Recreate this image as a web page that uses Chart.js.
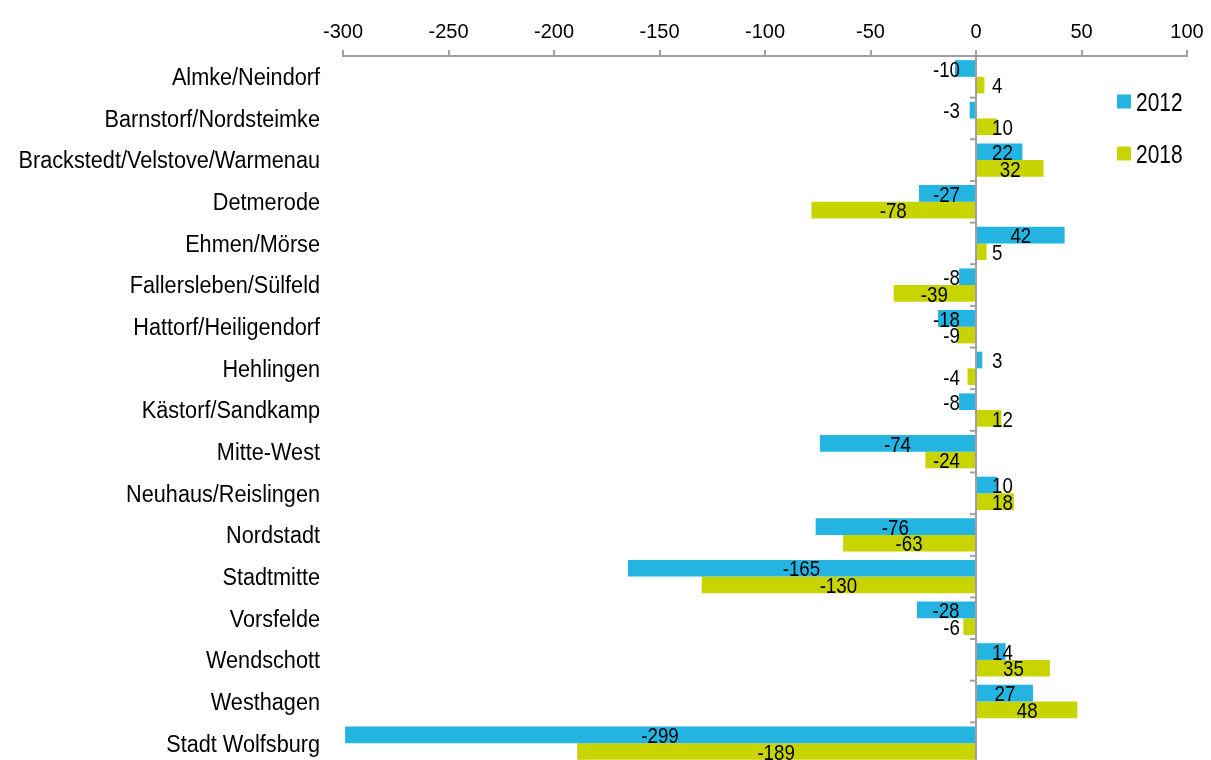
<!DOCTYPE html>
<html>
<head>
<meta charset="utf-8">
<script src="https://cdn.jsdelivr.net/npm/chart.js@4/dist/chart.umd.min.js"></script>
<style>
  html, body { margin: 0; padding: 0; background: #fff; overflow: hidden; }
  #wrap { width: 1211px; height: 770px; }
</style>
</head>
<body>
<div id="wrap"><canvas id="c" width="1211" height="770"></canvas></div>
<script>
// Population change by district
const districts = [
  'Almke/Neindorf', 'Barnstorf/Nordsteimke', 'Brackstedt/Velstove/Warmenau',
  'Detmerode', 'Ehmen/Mörse', 'Fallersleben/Sülfeld', 'Hattorf/Heiligendorf',
  'Hehlingen', 'Kästorf/Sandkamp', 'Mitte-West', 'Neuhaus/Reislingen',
  'Nordstadt', 'Stadtmitte', 'Vorsfelde', 'Wendschott', 'Westhagen',
  'Stadt Wolfsburg'
];
const seriesNames = ['2012', '2018'];
const values2012 = [-10, -3, 22, -27, 42, -8, -18, 3, -8, -74, 10, -76, -165, -28, 14, 27, -299];
const values2018 = [4, 10, 32, -78, 5, -39, -9, -4, 12, -24, 18, -63, -130, -6, 35, 48, -189];
const axisMin = -300, axisMax = 100, axisStep = 50;

const FONT = "'Liberation Sans', Arial, sans-serif";
const BLUE = '#24B4E2';
const GREEN = '#C8D400';
const AXIS = '#A0A0A0';

// text drawn with a narrow horizontal scale; y is the vertical centre of the capitals
function narrowText(ctx, txt, x, y, size, sx, align) {
  ctx.save();
  ctx.font = size + 'px ' + FONT;
  ctx.translate(x, y + size * 0.358);
  ctx.scale(sx, 1);
  ctx.textAlign = align;
  ctx.textBaseline = 'alphabetic';
  ctx.fillStyle = '#000';
  ctx.fillText(txt, 0, 0);
  ctx.restore();
}

// district names at the category positions of the y scale
const categoryLabels = {
  id: 'categoryLabels',
  afterDraw(chart) {
    const ys = chart.scales.y;
    const ctx = chart.ctx;
    ys.ticks.forEach((t, i) => {
      narrowText(ctx, ys.getLabelForValue(t.value), ys.right - 23, ys.getPixelForTick(i), 23.3, 0.93, 'right');
    });
  }
};

// value labels: centred on the bar, kept clear of the zero line
const valueLabels = {
  id: 'valueLabels',
  afterDatasetsDraw(chart) {
    const ctx = chart.ctx;
    const x0 = chart.scales.x.getPixelForValue(0);
    const size = 21.5, sx = 0.87;
    ctx.save();
    ctx.font = size + 'px ' + FONT;
    chart.data.datasets.forEach((ds, di) => {
      const meta = chart.getDatasetMeta(di);
      meta.data.forEach((bar, i) => {
        const v = ds.data[i];
        const txt = String(v);
        const w = ctx.measureText(txt).width * sx;
        let cx = (bar.x + bar.base) / 2;
        if (v >= 0) cx = Math.max(cx, x0 + 16 + w / 2);
        else cx = Math.min(cx, x0 - 16 - w / 2);
        narrowText(ctx, txt, cx, bar.y + 0.5, size, sx, 'center');
      });
    });
    ctx.restore();
  }
};

// category tick marks on the zero line, plus the legend at the right
const extras = {
  id: 'extras',
  afterDraw(chart) {
    const ctx = chart.ctx;
    const area = chart.chartArea;
    const x0 = chart.scales.x.getPixelForValue(0);
    const n = districts.length;
    const step = (area.bottom - area.top) / n;
    ctx.save();
    ctx.strokeStyle = AXIS;
    ctx.lineWidth = 2;
    for (let i = 1; i <= n; i++) {
      const y = area.top + i * step;
      ctx.beginPath();
      ctx.moveTo(x0 - 6, y);
      ctx.lineTo(x0, y);
      ctx.stroke();
    }
    const colors = [BLUE, GREEN];
    const ys = [101.5, 153.5];
    seriesNames.forEach((name, k) => {
      ctx.fillStyle = colors[k];
      ctx.fillRect(1117, ys[k] - 7, 14, 14);
      narrowText(ctx, name, 1136, ys[k], 26.5, 0.79, 'left');
    });
    ctx.restore();
  }
};

new Chart(document.getElementById('c'), {
  type: 'bar',
  data: {
    labels: districts,
    datasets: [
      { label: seriesNames[0], data: values2012, backgroundColor: BLUE, categoryPercentage: 0.8, barPercentage: 1.0 },
      { label: seriesNames[1], data: values2018, backgroundColor: GREEN, categoryPercentage: 0.8, barPercentage: 1.0 }
    ]
  },
  options: {
    indexAxis: 'y',
    responsive: false,
    devicePixelRatio: 1,
    animation: false,
    layout: { padding: { top: 0, right: 24, bottom: 6, left: 0 } },
    plugins: { legend: { display: false }, tooltip: { enabled: false } },
    scales: {
      x: {
        position: 'top',
        min: axisMin,
        max: axisMax,
        afterFit(scale) { scale.height = 56; },
        ticks: {
          stepSize: axisStep,
          font: { family: FONT, size: 20 },
          color: '#000',
          padding: 6
        },
        grid: {
          color: (c) => (c.tick && c.tick.value === 0) ? AXIS : 'rgba(0,0,0,0)',
          lineWidth: 2,
          tickColor: AXIS,
          tickLength: 6,
          drawTicks: true
        },
        border: { display: true, color: AXIS, width: 2 }
      },
      y: {
        afterFit(scale) {
          scale.width = 343;
          scale.paddingTop = 0;
          scale.paddingBottom = 0;
        },
        ticks: {
          display: false,
          autoSkip: false
        },
        grid: { display: false, drawTicks: false },
        border: { display: false }
      }
    }
  },
  plugins: [valueLabels, extras, categoryLabels]
});
</script>
</body>
</html>
